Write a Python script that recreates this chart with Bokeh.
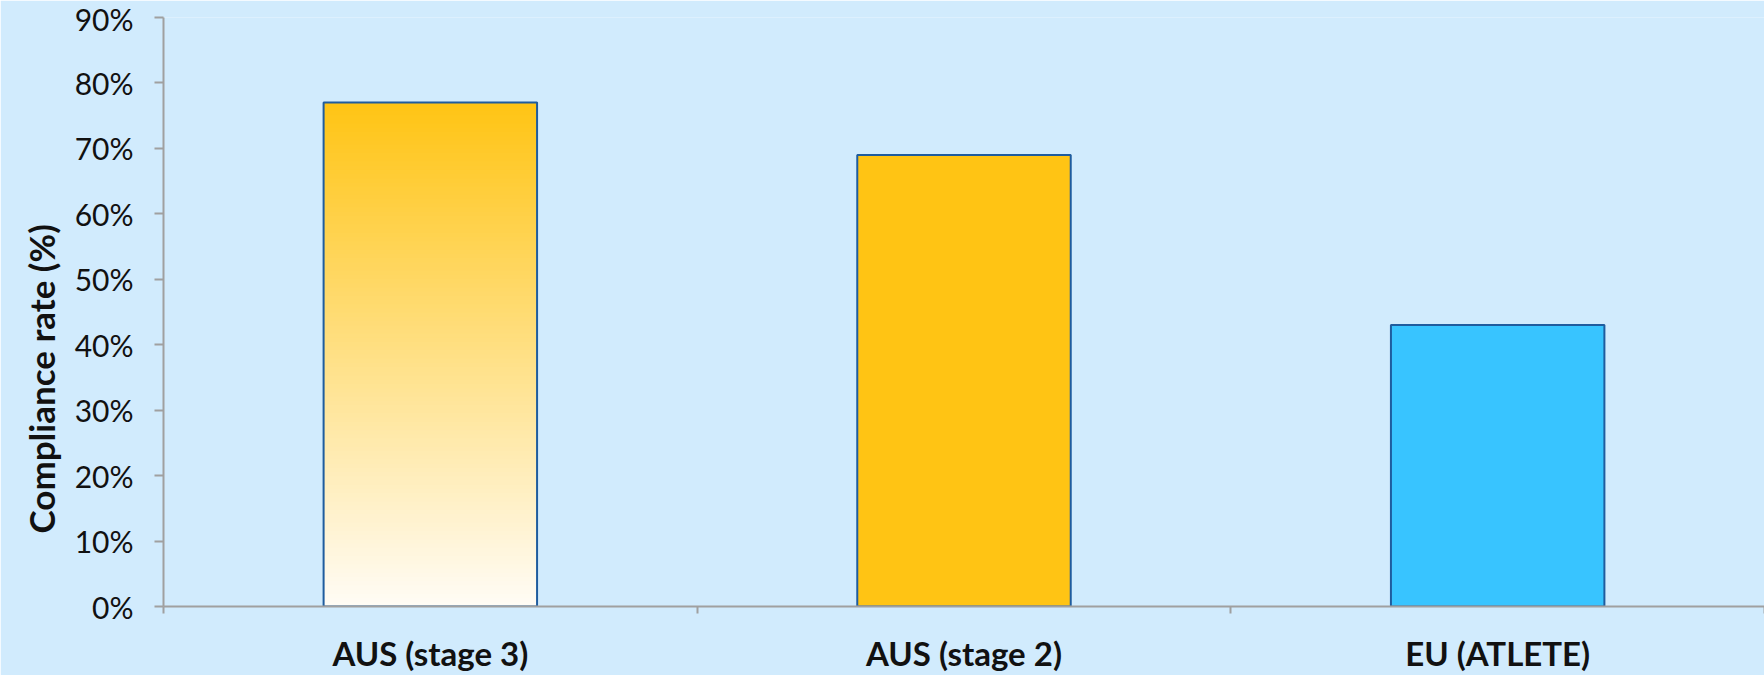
from bokeh.plotting import figure
from bokeh.models import Range1d, FixedTicker, Title
from bokeh.embed import file_html
from bokeh.resources import INLINE

# ---- data ----
categories = ["AUS (stage 3)", "AUS (stage 2)", "EU (ATLETE)"]
compliance = [0.77, 0.69, 0.43]
y_ticks = [0.0, 0.1, 0.2, 0.3, 0.4, 0.5, 0.6, 0.7, 0.8, 0.9]
y_tick_labels = ["0%", "10%", "20%", "30%", "40%", "50%", "60%", "70%", "80%", "90%"]
y_title = "Compliance rate (%)"

BG = "#D1EBFD"
GOLD = (255, 196, 20)
WHITE = (255, 252, 246)
BLUE = "#38C4FF"
EDGE = "#1F5C9E"
AXIS = "#A0A0A0"
FONT = "Lato"

p = figure(frame_width=1601, frame_height=589, output_backend="svg", toolbar_location=None,
           x_range=Range1d(0, 3), y_range=Range1d(0, 0.9),
           min_border_left=163, min_border_right=0, min_border_top=17, min_border_bottom=60)
p.background_fill_color = BG
p.border_fill_color = BG
p.outline_line_color = None
p.grid.visible = False

xs = [i + 0.5 for i in range(len(categories))]
bw = 0.4

# Bar 1: vertical gradient (white at bottom -> gold at top)
N = 120
v0 = compliance[0]
lefts, rights, bottoms, tops, cols = [], [], [], [], []
for i in range(N):
    f = (i + 0.5) / N
    c = tuple(int(round(WHITE[k] + f * (GOLD[k] - WHITE[k]))) for k in range(3))
    lefts.append(xs[0] - bw / 2)
    rights.append(xs[0] + bw / 2)
    bottoms.append(v0 * i / N)
    tops.append(v0)
    cols.append("#%02X%02X%02X" % c)
p.quad(left=lefts, right=rights, bottom=bottoms, top=tops, fill_color=cols, line_color=None)

# Bars 2 and 3 solid
p.vbar(x=xs[1:], width=bw, top=compliance[1:], bottom=0,
       fill_color=["#%02X%02X%02X" % GOLD, BLUE], line_color=None)

# outlines for all bars
p.vbar(x=xs, width=bw, top=compliance, bottom=0, fill_color=None,
       line_color=EDGE, line_width=2)

# ---- y axis ----
ya = p.yaxis[0]
ya.ticker = FixedTicker(ticks=y_ticks)
ya.major_label_overrides = {t: l for t, l in zip(y_ticks, y_tick_labels)}
ya.axis_line_color = AXIS
ya.axis_line_width = 2
ya.major_tick_line_color = AXIS
ya.major_tick_line_width = 2
ya.major_tick_out = 9
ya.major_tick_in = 0
ya.minor_tick_line_color = None
ya.major_label_standoff = 21
ya.major_label_text_font = FONT
ya.major_label_text_font_size = "30px"
ya.major_label_text_color = "#111111"

# y title (sits lower than the frame centre, as in the reference)
p.add_layout(Title(text=y_title, align="left", offset=73, standoff=20,
                   text_font=FONT, text_font_style="bold", text_font_size="35px",
                   text_color="#111111"), "left")

# ---- x axis ----
xa = p.xaxis[0]
xa.ticker = FixedTicker(ticks=xs, minor_ticks=[0, 1, 2, 3])
xa.major_label_overrides = {x: c for x, c in zip(xs, categories)}
xa.axis_line_color = AXIS
xa.axis_line_width = 2
xa.major_tick_line_color = None
xa.major_tick_out = 0
xa.major_tick_in = 0
xa.minor_tick_line_color = AXIS
xa.minor_tick_line_width = 2
xa.minor_tick_out = 7
xa.minor_tick_in = 0
xa.major_label_standoff = 19
xa.major_label_text_font = FONT
xa.major_label_text_font_style = "bold"
xa.major_label_text_font_size = "33px"
xa.major_label_text_color = "#111111"

open("out.html", "w").write(file_html(p, INLINE))
